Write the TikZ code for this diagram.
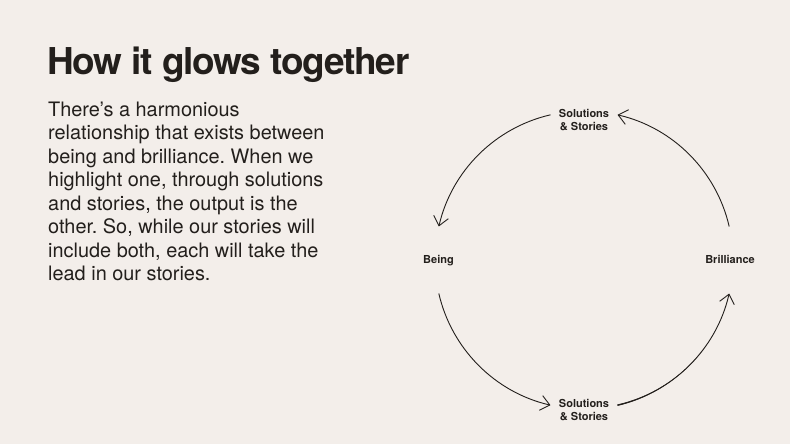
\documentclass[tikz,border=0pt]{standalone}
\usepackage{fontspec}
\setmainfont{TeX Gyre Heros}
\usetikzlibrary{arrows.meta,calc}
\definecolor{bg}{HTML}{F3EEEA}
\definecolor{ink}{HTML}{231F1C}
\begin{document}
\frenchspacing
\begin{tikzpicture}[x=1pt,y=1pt,
  lbl/.style={font=\fontsize{11}{12.7}\selectfont\bfseries, text=ink, inner sep=0pt, align=center},
  cyc/.style={draw=ink, line width=0.9pt, -{Straight Barb[length=9pt,width=15pt]}}]
\fill[bg] (0,0) rectangle (790,444);
\useasboundingbox (0,0) rectangle (790,444);
\node[anchor=base west, inner sep=0pt, text=ink, font=\fontsize{37}{40}\selectfont\bfseries\addfontfeature{LetterSpace=-3.3}] (title) at (47,369) {How it glows together};
\node[anchor=north west, inner sep=0pt, text=ink, align=left, font=\fontsize{19.9}{23.5}\selectfont] (body) at (48,342.4)
{There’s a harmonious\\relationship that exists between\\being and brilliance. When we\\highlight one, through solutions\\and stories, the output is the\\other. So, while our stories will\\include both, each will take the\\lead in our stories.};
\coordinate (O) at (584,184);
\node[lbl, anchor=north] (top) at (584,335) {Solutions\\\& Stories};
\node[lbl, anchor=north] (bot) at (584,45) {Solutions\\\& Stories};
\node[lbl, anchor=base west] (being) at (423,180) {Being};
\node[lbl, anchor=base east] (bril) at (755,180) {Brilliance};
\coordinate (a1) at ($(O)+(103:149)$);
\coordinate (a2) at ($(O)+(13:149)$);
\coordinate (a3) at ($(O)+(193:149)$);
\coordinate (a4) at ($(O)+(283:149)$);
\draw[cyc] (a1) arc[start angle=103, end angle=167, radius=149];
\draw[cyc] (a2) arc[start angle=13, end angle=77, radius=149];
\draw[cyc] (a3) arc[start angle=193, end angle=257, radius=149];
\draw[cyc] (a4) arc[start angle=283, end angle=347, radius=149];
\fill[ink] plot[domain=283:325, samples=30] ({584+(149+0.7*(325-\x)/42)*cos(\x)}, {184+(149+0.7*(325-\x)/42)*sin(\x)})
  -- plot[domain=325:283, samples=30] ({584+(149-0.7*(325-\x)/42)*cos(\x)}, {184+(149-0.7*(325-\x)/42)*sin(\x)}) -- cycle;
\end{tikzpicture}
\end{document}
